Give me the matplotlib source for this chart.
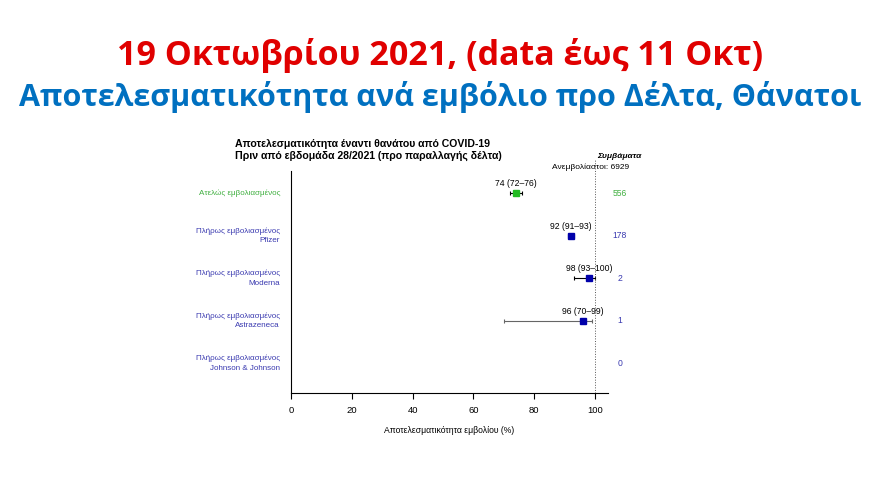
import matplotlib.pyplot as plt

# Δεδομένα
labels = ["Ατελώς εμβολιασμένος",
          "Πλήρως εμβολιασμένος\nPfizer",
          "Πλήρως εμβολιασμένος\nModerna",
          "Πλήρως εμβολιασμένος\nAstrazeneca",
          "Πλήρως εμβολιασμένος\nJohnson & Johnson"]
ve = [74, 92, 98, 96, None]
ci_low = [72, 91, 93, 70, None]
ci_high = [76, 93, 100, 99, None]
events = [556, 178, 2, 1, 0]
unvacc_events = 6929
xticks = [0, 20, 40, 60, 80, 100]

green_txt = '#3FAF3F'
blue_txt = '#3A3AB0'
green_mk = '#22BB22'
blue_mk = '#0000AA'

fig = plt.figure(figsize=(8.8, 4.93), dpi=100)
fig.patch.set_facecolor('white')

# μεγάλοι τίτλοι
fig.text(0.5, 0.887, "19 Οκτωβρίου 2021, (data έως 11 Οκτ)", ha='center', va='center',
         color='#E00000', fontsize=24.5, fontweight='bold', family='Open Sans')
fig.text(0.5, 0.804, "Αποτελεσματικότητα ανά εμβόλιο προ Δέλτα, Θάνατοι", ha='center', va='center',
         color='#0070C0', fontsize=22, fontweight='bold', family='Open Sans')

ax = fig.add_axes([291 / 880, 1 - 393 / 493, 317 / 880, 222 / 493])
ax.set_xlim(0, 104.3)
ax.set_ylim(0.3, 5.52)

ypos = [5, 4, 3, 2, 1]
for i in range(len(labels)):
    y = ypos[i]
    col_t = green_txt if i == 0 else blue_txt
    col_m = green_mk if i == 0 else blue_mk
    ax.text(-3.6, y, labels[i], ha='right', va='center', fontsize=5.8, color=col_t,
            family='Liberation Sans', linespacing=1.45, clip_on=False)
    ax.text(108.2, y, str(events[i]), ha='center', va='center', fontsize=6.2, color=col_t,
            family='Liberation Sans', clip_on=False)
    if ve[i] is None:
        continue
    lc = '#666666' if i == 3 else 'black'
    ax.errorbar(ve[i], y, xerr=[[ve[i] - ci_low[i]], [ci_high[i] - ve[i]]], fmt='none',
                ecolor=lc, elinewidth=0.8, capsize=1.5, capthick=0.8)
    ax.plot(ve[i], y, 's', color=col_m, markersize=4.5, zorder=3)
    ax.annotate(f"{ve[i]} ({ci_low[i]}–{ci_high[i]})", (ve[i], y), xytext=(0, 3.5),
                textcoords='offset points', ha='center', va='bottom', fontsize=6.2,
                family='Liberation Sans')

ax.plot([100, 100], [0.3, 5.8], ls=':', color='#555555', lw=0.7, clip_on=False)

ax.text(108.2, 5.87, "Συμβάματα", ha='center', va='center', fontsize=6, fontweight='bold',
        style='italic', family='Liberation Sans', clip_on=False)
ax.text(111.2, 5.6, f"Ανεμβολίαστοι: {unvacc_events}", ha='right', va='center', fontsize=6,
        family='Liberation Sans', clip_on=False)

ax.text(-18.5, 6.02, "Αποτελεσματικότητα έναντι θανάτου από COVID-19\n"
        "Πριν από εβδομάδα 28/2021 (προ παραλλαγής δέλτα)", ha='left', va='center',
        fontsize=7.6, fontweight='bold', family='Liberation Sans', linespacing=1.25,
        clip_on=False)

for s in ['top', 'right']:
    ax.spines[s].set_visible(False)
ax.spines['left'].set_linewidth(0.8)
ax.spines['bottom'].set_linewidth(0.8)
ax.set_yticks([])
ax.set_xticks(xticks)
ax.tick_params(axis='x', length=4, width=0.8, labelsize=6.8, pad=5.5)
for t in ax.get_xticklabels():
    t.set_family('Liberation Sans')
ax.set_xlabel("Αποτελεσματικότητα εμβολίου (%)", fontsize=6.2, family='Liberation Sans',
              labelpad=8)

fig.savefig('out.png', dpi=100)
